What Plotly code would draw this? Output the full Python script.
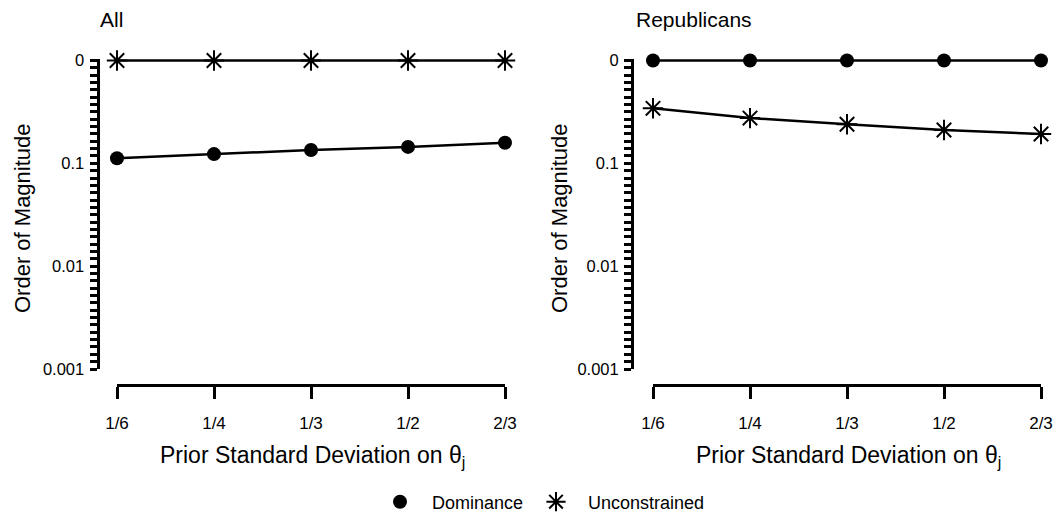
import plotly.graph_objects as go

# ---- data (order of magnitude = log10 scale) ----
categories = ["1/6", "1/4", "1/3", "1/2", "2/3"]
all_dominance = [-0.95, -0.91, -0.87, -0.84, -0.80]
all_unconstrained = [0, 0, 0, 0, 0]
rep_dominance = [0, 0, 0, 0, 0]
rep_unconstrained = [-0.465, -0.56, -0.62, -0.676, -0.715]

y_tickvals = [0, -1, -2, -3]
y_ticktext = ["0", "0.1", "0.01", "0.001"]

W, H = 1056, 515
FONT = "Liberation Sans, Arial, Helvetica, sans-serif"


def px(x):
    return x / W


def py(y):
    return 1 - y / H


dot = dict(symbol="circle", size=14, color="black", line=dict(width=0))
star = dict(symbol="asterisk-open", size=17, color="black", line=dict(width=2, color="black"))
line = dict(color="black", width=2.5)

fig = go.Figure()
fig.add_trace(go.Scatter(x=categories, y=all_dominance, mode="lines+markers", marker=dot, line=line,
                         xaxis="x", yaxis="y", showlegend=False, cliponaxis=False))
fig.add_trace(go.Scatter(x=categories, y=all_unconstrained, mode="lines+markers", marker=star, line=line,
                         xaxis="x", yaxis="y", showlegend=False, cliponaxis=False))
fig.add_trace(go.Scatter(x=categories, y=rep_dominance, mode="lines+markers", marker=dot, line=line,
                         xaxis="x2", yaxis="y2", showlegend=False, cliponaxis=False))
fig.add_trace(go.Scatter(x=categories, y=rep_unconstrained, mode="lines+markers", marker=star, line=line,
                         xaxis="x2", yaxis="y2", showlegend=False, cliponaxis=False))
# legend entries
fig.add_trace(go.Scatter(x=[None], y=[None], mode="markers", marker=dot, name="Dominance",
                         xaxis="x", yaxis="y", legend="legend"))
fig.add_trace(go.Scatter(x=[None], y=[None], mode="markers", marker=star, name="Unconstrained",
                         xaxis="x", yaxis="y", legend="legend2"))

# pixels per decade and a tiny headroom so the line at 0 is not clipped
PPD = (369 - 60.5) / 3
HEAD = 1.6 / PPD

xcommon = dict(type="category", range=[0, 4], anchor="free", position=py(385),
               showline=True, linewidth=3, linecolor="black",
               ticks="outside", ticklen=12, tickwidth=3, tickcolor="black",
               tickfont=dict(size=17, color="black", family=FONT), ticklabelstandoff=10,
               showgrid=False, zeroline=False, fixedrange=True)
ycommon = dict(range=[-3, HEAD], domain=[py(369), py(60.5 - 1.6)], anchor="free",
               tickmode="array", tickvals=y_tickvals, ticktext=y_ticktext,
               showline=True, linewidth=3, linecolor="black",
               ticks="outside", ticklen=7, tickwidth=2.5, tickcolor="black",
               minor=dict(tickmode="linear", tick0=0, dtick=1 / 14, ticks="outside",
                          ticklen=7, tickwidth=2.5, tickcolor="black", showgrid=False),
               tickfont=dict(size=16.5, color="black", family=FONT), ticklabelstandoff=2,
               showgrid=False, zeroline=False, fixedrange=True)

legcommon = dict(orientation="h", xanchor="left", y=py(502), yanchor="middle",
                 font=dict(size=18, color="black", family=FONT), itemwidth=54,
                 bgcolor="rgba(0,0,0,0)")

fig.update_layout(
    width=W, height=H, autosize=False,
    margin=dict(l=0, r=0, t=0, b=0, autoexpand=False),
    paper_bgcolor="white", plot_bgcolor="white",
    font=dict(family=FONT, color="black"),
    xaxis=dict(domain=[px(117), px(505)], **xcommon),
    xaxis2=dict(domain=[px(653), px(1041)], **xcommon),
    yaxis=dict(position=px(97.5), **ycommon),
    yaxis2=dict(position=px(632), **ycommon),
    legend=dict(x=px(368), **legcommon),
    legend2=dict(x=px(524), **legcommon),
)

annots = [
    dict(text="All", x=px(98), y=py(20), xanchor="left", yanchor="middle", font=dict(size=21)),
    dict(text="Republicans", x=px(634), y=py(20), xanchor="left", yanchor="middle", font=dict(size=21)),
    dict(text="Order of Magnitude", x=px(22), y=py(218), xanchor="center", yanchor="middle",
         textangle=-90, font=dict(size=22)),
    dict(text="Order of Magnitude", x=px(559), y=py(218), xanchor="center", yanchor="middle",
         textangle=-90, font=dict(size=22)),
    dict(text="Prior Standard Deviation on θ<sub>j</sub>", x=px(312), y=py(456), xanchor="center",
         yanchor="middle", font=dict(size=23)),
    dict(text="Prior Standard Deviation on θ<sub>j</sub>", x=px(848), y=py(456), xanchor="center",
         yanchor="middle", font=dict(size=23)),
]
for a in annots:
    a.update(xref="paper", yref="paper", showarrow=False)
    a["font"].update(family=FONT, color="black")
fig.update_layout(annotations=annots)

fig.write_html("out.html")
